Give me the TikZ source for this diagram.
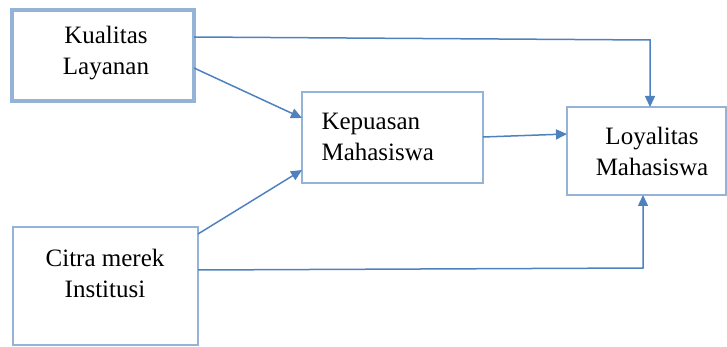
\documentclass[tikz,border=0pt]{standalone}
\usepackage{fontspec}
\setmainfont{Liberation Serif}
\usetikzlibrary{arrows.meta}
\definecolor{boxc}{HTML}{95B3D7}
\definecolor{linec}{HTML}{4F81BD}
\tikzset{
  box/.style={draw=boxc, line width=1.2pt, inner sep=0pt},
  lbl/.style={font=\fontsize{25}{31}\selectfont, align=center},
  conn/.style={draw=linec, line width=1.5pt, -{Triangle[length=11pt,width=10pt]}}
}
\begin{document}
\begin{tikzpicture}[x=1pt,y=-1pt]
\useasboundingbox (0,0) rectangle (727,347);
% boxes
\draw[box, line width=4pt] (12,10) rectangle (194,101);
\node[lbl] (kl) at (106,53) {Kualitas\\Layanan};
\coordinate (klA) at (194,37);
\coordinate (klB) at (194,68);
\draw[box] (302,92) rectangle (483,183);
\node[lbl, align=left, anchor=west] (km) at (318,137) {Kepuasan\\Mahasiswa};
\coordinate (kmL1) at (302,118);
\coordinate (kmL2) at (302,170);
\coordinate (kmR) at (483,137);
\draw[box] (567,107) rectangle (726,195);
\node[lbl] (lm) at (652,151) {Loyalitas\\Mahasiswa};
\coordinate (lmT) at (650,107);
\coordinate (lmL) at (567,134);
\coordinate (lmB) at (643,195);
\draw[box] (13,227) rectangle (198,345);
\node[lbl] (ci) at (105,273) {Citra merek\\Institusi};
\coordinate (ciA) at (198,234);
\coordinate (ciB) at (198,270);
% connectors
\draw[conn] (klA) -- (650,40) -- (lmT);
\draw[conn] (klB) -- (kmL1);
\draw[conn] (ciA) -- (kmL2);
\draw[conn] (kmR) -- (lmL);
\draw[conn] (ciB) -- (643,268) -- (lmB);
\end{tikzpicture}
\end{document}
